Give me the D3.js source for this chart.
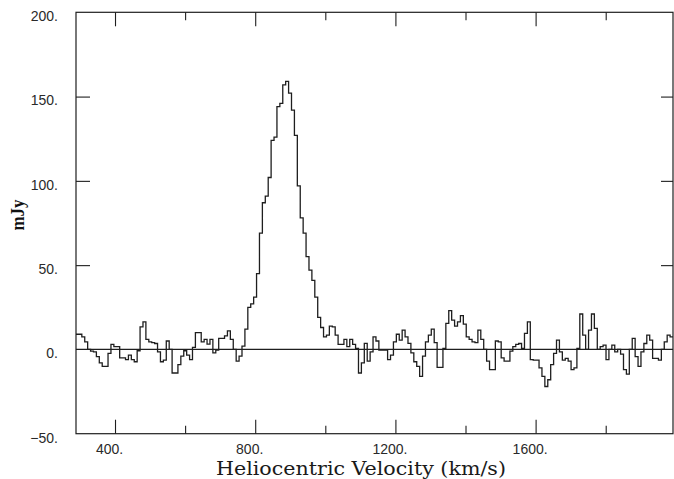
<!DOCTYPE html>
<html>
<head>
<meta charset="utf-8">
<script src="https://cdn.jsdelivr.net/npm/d3@7"></script>
<style>
  html, body { margin: 0; padding: 0; background: #fff; }
  svg { display: block; }
</style>
</head>
<body>
<svg id="chart" width="674" height="479"></svg>
<script>
// ---- data ----
const velocityStart = 288.7;      // km/s, left edge of first channel
const velocityEnd = 1992;         // km/s, right edge of last channel
const fluxValues = [
  9, 9, 7.5, 4.5, 0, -1, -1.5, -4.3, -8, -10,
  -10, -2.4, 3, 1.6, 1.6, -5, -5, -6, -3.4, -6,
  -7.3, -0.8, 13.4, 16.4, 6, 4.5, 4, 3.5, -1.4, -7.3,
  -6.3, 5, 0, -14, -14, -9, -4, -0.8, -3.4, -6,
  1.2, 10, 10, 4.5, 6, 3.2, 6, -2, -0.4, 6.5,
  6.5, 8, 11, 6, 0, -7, -4, 2, 12, 25,
  27, 31, 45, 69, 87, 91, 102, 124, 126, 144,
  146, 157, 159, 152, 142, 127, 97, 78, 69, 55,
  47, 41, 31, 19, 13, 7.5, 8.5, 13.8, 13.4, 8.5,
  3, 3, 6, 1.6, 6, 3, 0.6, -14, -8, 3.6,
  -7, -1.4, 7.5, 5, -0.4, -0.4, -0.4, -6, -3.4, 4.5,
  9, 5.5, 11.5, 7.5, 3.6, -2, -7.3, -10, -16, -4,
  4.5, 8.5, 12, 4, -10.7, -10.7, 0.6, 15.4, 23, 17.4,
  13.8, 16.4, 20, 15, 7.5, 6, 4.5, 4, 11.5, 6,
  0, -7, -12, -12, 5, 4.5, -5, -7, -7, -1,
  1.6, 3, 3.5, 0.6, 9.5, 16.4, -6, -6.3, -6.3, -11,
  -16, -22, -18, -9, -2.4, 5.5, -1.4, -6.3, -5.3, -7,
  -12, -11, 0.6, 21, 8.5, 0, 11.5, 21, 12.5, 0,
  1.6, 2.6, -6, 0, 2.6, -1.4, 0, -2.8, -12, -14.6,
  0, 6.5, -4.3, -10, -1.4, 3.5, 8.5, 5.5, -5.3, -5.3,
  -6.3, 0, 4.5, 8.5, 7.5
];
const xMajorTicks = [400, 800, 1200, 1600];
const xMinorTicks = [600, 1000, 1400, 1800];
const yLabelTicks = [200, 150, 100, 50, 0, -50];
const yMarkTicks = [150, 100, 50];
const xTitle = "Heliocentric Velocity (km/s)";
const yTitle = "mJy";

// ---- layout ----
const plotLeft = 76, plotRight = 673, plotTop = 12.3, plotBottom = 433.7;
const svg = d3.select("#chart");
const ink = "#1e1e1e";

const x = d3.scaleLinear().domain([velocityStart, velocityEnd]).range([plotLeft, plotRight]);
const y = d3.scaleLinear().domain([-50, 200]).range([plotBottom, plotTop]);

const fmt = d => (d < 0 ? "\u2212" : "") + Math.abs(d) + ".";

// frame
svg.append("rect")
  .attr("x", plotLeft).attr("y", plotTop)
  .attr("width", plotRight - plotLeft).attr("height", plotBottom - plotTop)
  .attr("fill", "none").attr("stroke", ink).attr("stroke-width", 1.2);

function clean(g) { g.select(".domain").remove(); }

// bottom major ticks + labels
svg.append("g").attr("transform", `translate(0,${plotBottom})`)
  .call(d3.axisBottom(x).tickValues(xMajorTicks).tickSizeInner(-14).tickSizeOuter(0).tickPadding(10.4).tickFormat(fmt))
  .call(clean)
  .call(g => g.selectAll("line").attr("stroke", ink).attr("stroke-width", 1.1))
  .call(g => g.selectAll("text").attr("dx", "-6").attr("fill", "#2a2a2a")
      .style("font-family", "'Liberation Sans', Arial, sans-serif").style("font-size", "14px"));
// bottom minor ticks
svg.append("g").attr("transform", `translate(0,${plotBottom})`)
  .call(d3.axisBottom(x).tickValues(xMinorTicks).tickSizeInner(-8).tickSizeOuter(0).tickFormat(""))
  .call(clean)
  .call(g => g.selectAll("line").attr("stroke", ink).attr("stroke-width", 1.1));
// top major / minor ticks
svg.append("g").attr("transform", `translate(0,${plotTop})`)
  .call(d3.axisTop(x).tickValues(xMajorTicks).tickSizeInner(-14).tickSizeOuter(0).tickFormat(""))
  .call(clean)
  .call(g => g.selectAll("line").attr("stroke", ink).attr("stroke-width", 1.1));
svg.append("g").attr("transform", `translate(0,${plotTop})`)
  .call(d3.axisTop(x).tickValues(xMinorTicks).tickSizeInner(-8).tickSizeOuter(0).tickFormat(""))
  .call(clean)
  .call(g => g.selectAll("line").attr("stroke", ink).attr("stroke-width", 1.1));

// left labels
svg.append("g").attr("transform", `translate(${plotLeft},0)`)
  .call(d3.axisLeft(y).tickValues(yLabelTicks).tickSize(0).tickPadding(18).tickFormat(fmt))
  .call(clean)
  .call(g => g.selectAll("line").remove())
  .call(g => g.selectAll("text").attr("dy", "0.6em").attr("fill", "#2a2a2a")
      .style("font-family", "'Liberation Sans', Arial, sans-serif").style("font-size", "14px"));
// left tick marks
svg.append("g").attr("transform", `translate(${plotLeft},0)`)
  .call(d3.axisLeft(y).tickValues(yMarkTicks).tickSizeInner(-14).tickSizeOuter(0).tickFormat(""))
  .call(clean)
  .call(g => g.selectAll("line").attr("stroke", ink).attr("stroke-width", 1.1));
// right tick marks
svg.append("g").attr("transform", `translate(${plotRight},0)`)
  .call(d3.axisRight(y).tickValues(yMarkTicks).tickSizeInner(-12).tickSizeOuter(0).tickFormat(""))
  .call(clean)
  .call(g => g.selectAll("line").attr("stroke", ink).attr("stroke-width", 1.1));

// zero line
svg.append("line")
  .attr("x1", x(velocityStart)).attr("x2", x(velocityEnd))
  .attr("y1", y(0)).attr("y2", y(0))
  .attr("stroke", ink).attr("stroke-width", 1.1);

// spectrum as step histogram
const dv = (velocityEnd - velocityStart) / fluxValues.length;
const pts = fluxValues.map((v, i) => [velocityStart + i * dv, v]);
pts.push([velocityEnd, fluxValues[fluxValues.length - 1]]);
const stepLine = d3.line()
  .x(d => x(d[0])).y(d => y(d[1]))
  .curve(d3.curveStepAfter);
svg.append("path")
  .attr("d", stepLine(pts))
  .attr("fill", "none").attr("stroke", ink).attr("stroke-width", 1.3)
  .attr("stroke-linejoin", "miter");

// titles
svg.append("text")
  .attr("x", 361).attr("y", 475)
  .attr("text-anchor", "middle")
  .attr("textLength", 290).attr("lengthAdjust", "spacingAndGlyphs")
  .attr("fill", "#1a1a1a")
  .style("font-family", "'DejaVu Serif', 'Liberation Serif', serif").style("font-size", "18px")
  .text(xTitle);
svg.append("text")
  .attr("transform", "translate(23.5,215) rotate(-90)")
  .attr("text-anchor", "middle")
  .attr("textLength", 31).attr("lengthAdjust", "spacingAndGlyphs")
  .attr("fill", "#111")
  .style("font-family", "'Liberation Serif', 'Times New Roman', serif").style("font-size", "19px")
  .style("font-weight", "bold")
  .text(yTitle);
</script>
</body>
</html>
